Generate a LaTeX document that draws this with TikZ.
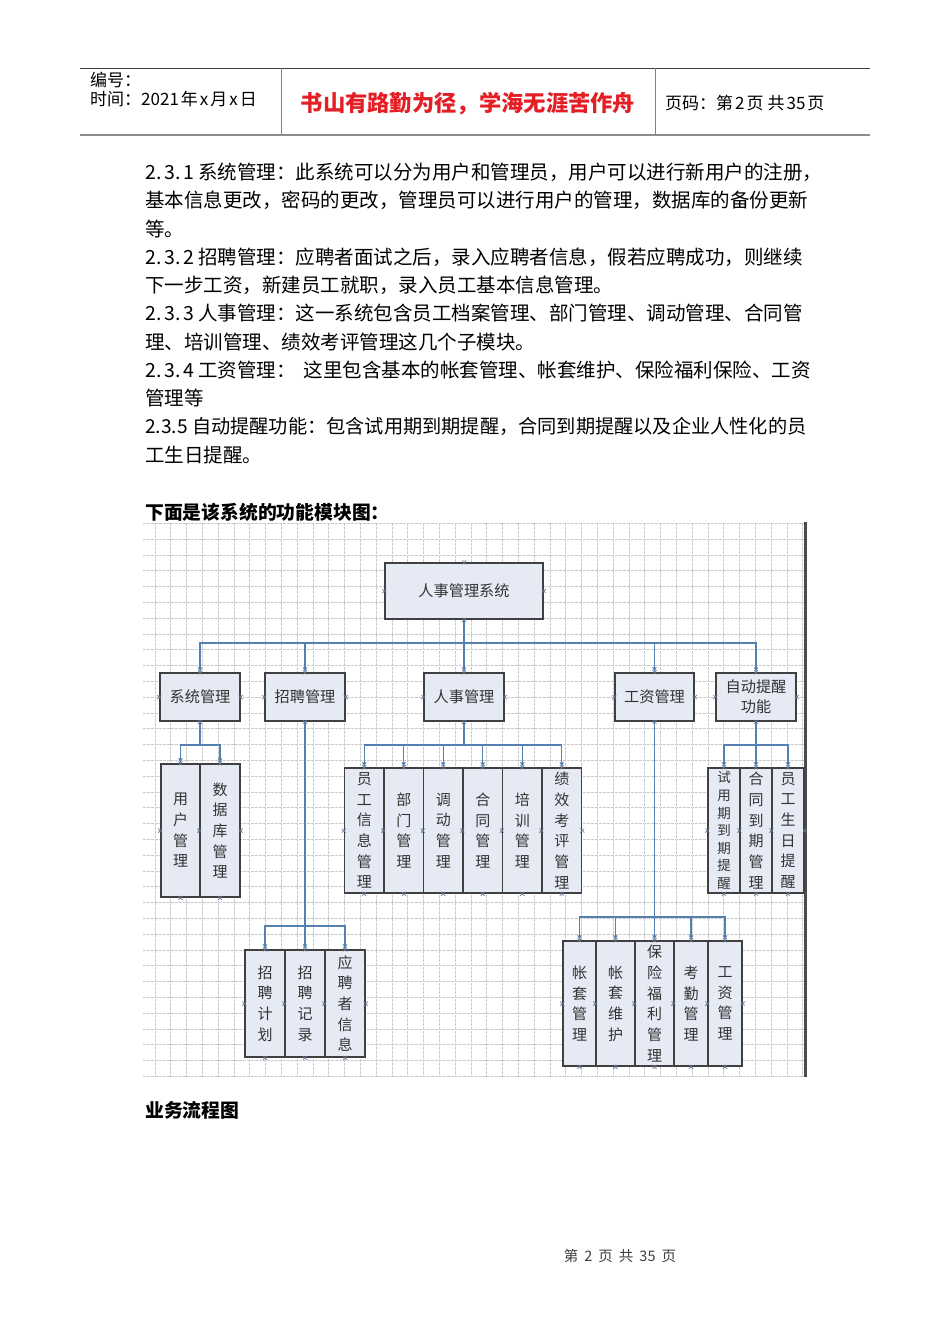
\documentclass[tikz,border=0pt]{standalone}
\usepackage{fontspec}
\setmainfont{Noto Sans CJK SC}
\usetikzlibrary{arrows.meta, positioning, calc}
\definecolor{boxfill}{RGB}{230,234,245}
\definecolor{boxline}{RGB}{64,64,64}
\definecolor{linkblue}{RGB}{84,128,178}
\definecolor{markgray}{RGB}{105,122,150}
\definecolor{gridgray}{RGB}{200,200,200}
\definecolor{mottored}{RGB}{228,30,36}

\tikzset{
    box/.style={draw=boxline, line width=1.5pt, fill=boxfill, inner sep=0pt, align=center,
        text=black!80, font=\fontsize{15.2}{20}\selectfont},
    midbox/.style={box, minimum width=80, minimum height=48},
    leafA/.style={box, font=\fontsize{15}{20.7}\selectfont},
    leafB/.style={box, font=\fontsize{13.5}{17.6}\selectfont},
    conn/.style={draw=linkblue, line width=1.3pt},
    arr/.style={conn, -{Latex[length=5pt,width=5pt]}},
    xmk/.style={draw=markgray, line width=0.7pt},
    gridln/.style={draw=gridgray, line width=0.7pt, dash pattern=on 2.5pt off 1.5pt},
    frameedge/.style={draw=black!70, line width=3pt},
    hdrule/.style={draw=black!75, line width=1pt},
    hdsep/.style={draw=black!50, line width=0.8pt},
    hdtxt/.style={anchor=west, inner sep=0pt, font=\fontsize{17}{18}\selectfont},
    motto/.style={inner sep=0pt, text=mottored, font=\bfseries\fontsize{22.3}{24}\selectfont},
    bodyline/.style={anchor=west, inner sep=0pt, font=\fontsize{19.5}{22}\selectfont},
    headline/.style={anchor=west, inner sep=0pt, font=\bfseries\fontsize{18.8}{20}\selectfont},
    pagefoot/.style={inner sep=0pt, text=black!75, font=\fontsize{14.5}{16}\selectfont}
}

% connection points of a box
\newcommand{\xpts}[1]{%
    \foreach \a in {north,south,east,west}
        \draw[xmk] (#1.\a) +(-2,-2) -- +(2,2) +(-2,2) -- +(2,-2);
}
% spaced section number
\newcommand{\secno}[3]{#1.\kern3pt#2.\kern3pt#3\kern4pt}

\begin{document}
\begin{tikzpicture}[x=1pt, y=-1pt]
    \useasboundingbox (0,0) rectangle (950,1344);
    \fill[white] (0,0) rectangle (950,1344);

    % page header
    \draw[hdrule] (80,68) -- (870,68);
    \draw[hdrule, draw=black!45, line width=2.4pt] (80,135) -- (870,135);
    \draw[hdsep] (281,68) -- (281,135);
    \draw[hdsep] (655,68) -- (655,135);
    \node[hdtxt] (bianhao) at (90,80) {编号：};
    \node[hdtxt] (shijian) at (90,99) {时间：2021\kern2pt 年\kern2pt x\kern2pt 月\kern2pt x\kern2pt 日};
    \node[motto] (mottotxt) at (468,104) {书山有路勤为径，学海无涯苦作舟};
    \node[hdtxt] (yema) at (665,103) {页码：第\kern2pt 2\kern2pt 页\kern4pt 共\kern2pt 35\kern2pt 页};

    % body text
    \foreach \lbl [count=\i] in {
        \secno231系统管理：此系统可以分为用户和管理员，用户可以进行新用户的注册，,
        基本信息更改，密码的更改，管理员可以进行用户的管理，数据库的备份更新,
        等。,
        \secno232招聘管理：应聘者面试之后，录入应聘者信息，假若应聘成功，则继续,
        下一步工资，新建员工就职，录入员工基本信息管理。,
        \secno233人事管理：这一系统包含员工档案管理、部门管理、调动管理、合同管,
        理、培训管理、绩效考评管理这几个子模块。,
        \secno234工资管理：\hspace{0.4em}这里包含基本的帐套管理、帐套维护、保险福利保险、工资,
        管理等,
        {\fontsize{19.2}{22}\selectfont 2.3.5 自动提醒功能：包含试用期到期提醒，合同到期提醒以及企业人性化的员},
        工生日提醒。}
        \node[bodyline] (line\i) at (145,{172+28.3*(\i-1)}) {\lbl};

    \node[headline] (mkhead) at (145,512) {下面是该系统的功能模块图：};

    % grid of the drawing sheet
    \foreach \i in {0,...,41}
        \draw[gridln] ({155+15.8*\i},523) -- ({155+15.8*\i},1077);
    \foreach \j in {0,...,35}
        \draw[gridln] (143,{523.3+15.8*\j}) -- (805,{523.3+15.8*\j});
    \draw[frameedge] (805,522) -- (805,1077);

    % bus levels
    \coordinate (busA) at (464,643);
    \coordinate (busB) at (0,745);
    \coordinate (busZ) at (0,926);
    \coordinate (busG) at (0,917);

    % top levels
    \node[box, minimum width=158, minimum height=56] (root) at (464,591) {人事管理系统};
    \node[midbox] (xtgl) at (200,697) {系统管理};
    \node[midbox] (zpgl) at (305,697) {招聘管理};
    \node[midbox] (rsgl) at (464,697) {人事管理};
    \node[midbox, minimum width=79] (gzgl) at (654.5,697) {工资管理};
    \node[midbox] (zdtx) at (756,697) {自动提醒\\功能};
    \foreach \n in {xtgl,zpgl,rsgl,gzgl,zdtx}
        \draw[arr] (root.south) -- (root.south |- busA) -| (\n.north);
    \foreach \n in {root,xtgl,zpgl,rsgl,gzgl,zdtx}
        \xpts{\n};

    % 系统管理
    \foreach \lbl/\l/\r [count=\i] in {用\\户\\管\\理/161/200, 数\\据\\库\\管\\理/200/240} {
        \node[leafA, minimum width={\r-\l}, minimum height=133] (xt\i) at ({(\l+\r)/2},830.5) {\lbl};
        \draw[arr] (xtgl.south) -- (xtgl.south |- busB) -| (xt\i.north);
        \xpts{xt\i};
    }

    % 人事管理
    \foreach \lbl [count=\i] in {员\\工\\信\\息\\管\\理, 部\\门\\管\\理, 调\\动\\管\\理,
            合\\同\\管\\理, 培\\训\\管\\理, 绩\\效\\考\\评\\管\\理} {
        \node[leafA, minimum width=39.5, minimum height=125] (rs\i) at ({344.5+39.5*(\i-0.5)},830.5) {\lbl};
        \draw[arr] (rsgl.south) -- (rsgl.south |- busB) -| (rs\i.north);
        \xpts{rs\i};
    }

    % 自动提醒功能
    \foreach \lbl/\l/\r/\sty [count=\i] in {试\\用\\期\\到\\期\\提\\醒/708/740/leafB,
            合\\同\\到\\期\\管\\理/740/772/leafA, 员\\工\\生\\日\\提\\醒/772/804/leafA} {
        \node[\sty, minimum width={\r-\l}, minimum height=125] (tx\i) at ({(\l+\r)/2},830.5) {\lbl};
        \draw[arr] (zdtx.south) -- (zdtx.south |- busB) -| (tx\i.north);
        \xpts{tx\i};
    }

    % 招聘管理
    \foreach \lbl [count=\i] in {招\\聘\\计\\划, 招\\聘\\记\\录, 应\\聘\\者\\信\\息} {
        \node[leafA, minimum width=40, minimum height=107] (zp\i) at ({245+40*(\i-0.5)},1003.5) {\lbl};
        \draw[arr] (zpgl.south) -- (zpgl.south |- busZ) -| (zp\i.north);
        \xpts{zp\i};
    }

    % 工资管理
    \foreach \lbl/\l/\r [count=\i] in {帐\\套\\管\\理/563/596, 帐\\套\\维\\护/596/635,
            保\\险\\福\\利\\管\\理/635/674, 考\\勤\\管\\理/674/708, 工\\资\\管\\理/708/742} {
        \node[leafA, minimum width={\r-\l}, minimum height=125] (gz\i) at ({(\l+\r)/2},1003.5) {\lbl};
        \draw[arr] (gzgl.south) -- (gzgl.south |- busG) -| (gz\i.north);
        \xpts{gz\i};
    }

    \node[headline] (lchead) at (145,1110) {业务流程图};

    % page footer
    \node[pagefoot] (pageno) at (620,1256) {第\kern6pt 2\kern6pt 页\kern6pt 共\kern6pt 35\kern6pt 页};
\end{tikzpicture}
\end{document}
